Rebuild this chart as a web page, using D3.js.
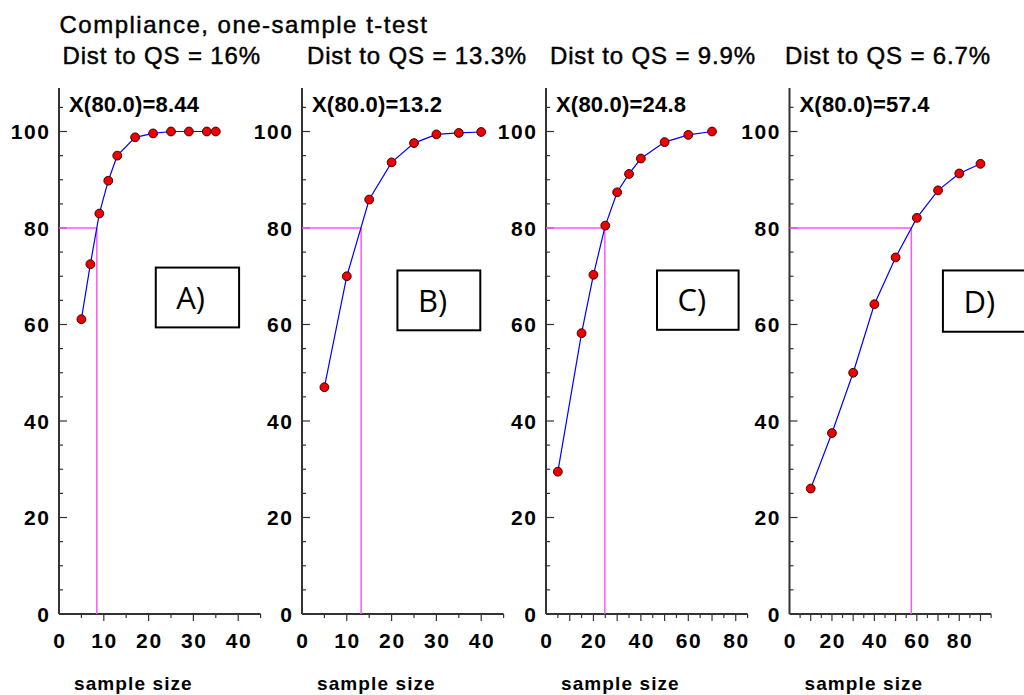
<!DOCTYPE html>
<html><head><meta charset="utf-8">
<script src="https://cdn.jsdelivr.net/npm/d3@7"></script>
<style>
html,body{margin:0;padding:0;background:#fff;}
svg{display:block;font-family:"Liberation Sans",Arial,sans-serif;}
</style></head>
<body><svg id="chart" width="1024" height="695"></svg>
<script>
// ---- data ----
const mainTitle = "Compliance, one-sample t-test";
const panelTitles = ["Dist to QS = 16%", "Dist to QS = 13.3%", "Dist to QS = 9.9%", "Dist to QS = 6.7%"];
const boxLabels = ["A)", "B)", "C)", "D)"];
const x80Values = [8.44, 13.2, 24.8, 57.4];
const threshold = 80;
const xLabel = "sample size";

const sizesA = [5, 7, 9, 11, 13, 17, 21, 25, 29, 33, 35];
const powerA = [61.1, 72.5, 83, 89.8, 95, 98.8, 99.6, 100, 100, 100, 100];
const sizesB = [5, 10, 15, 20, 25, 30, 35, 40];
const powerB = [47, 70, 85.9, 93.6, 97.6, 99.4, 99.7, 99.9];
const sizesC = [5, 15, 20, 25, 30, 35, 40, 50, 60, 70];
const powerC = [29.5, 58.2, 70.3, 80.5, 87.4, 91.2, 94.4, 97.8, 99.3, 100];
const sizesD = [10, 20, 30, 40, 50, 60, 70, 80, 90];
const powerD = [26, 37.5, 50, 64.2, 73.9, 82.1, 87.8, 91.3, 93.3];

const xDomainMax = [45, 45, 85, 95];
const xLabelStep = [10, 10, 20, 20];
const yDomainMax = 109;
const yTickLabels = [0, 20, 40, 60, 80, 100];

// annotation boxes in data units: [x0, x1, yTop, yBottom]
const boxExtents = [[21.6, 40.2, 71.8, 59.4], [21.3, 39.8, 71.2, 58.8], [46.8, 81.2, 71.2, 58.9], [72.3, 111, 71.2, 58.5]];

// ---- layout ----
const svg = d3.select("#chart");
const panelLeft = [59, 302, 546, 789.5];
const plotW = 201.6;
const yBottom = 614, yTop100 = 131.5;
const titleX = [62.5, 307, 550, 785];

const series = [[sizesA, powerA], [sizesB, powerB], [sizesC, powerC], [sizesD, powerD]];

const y = d3.scaleLinear().domain([0, 100]).range([yBottom, yTop100]);

svg.append("text").attr("x", 59.5).attr("y", 33)
  .attr("font-size", 24).attr("letter-spacing", 1.5).attr("fill", "#000")
  .attr("stroke", "#000").attr("stroke-width", 0.45)
  .text(mainTitle);

series.forEach(([xs, ys], i) => {
  const x = d3.scaleLinear().domain([0, xDomainMax[i]]).range([panelLeft[i], panelLeft[i] + plotW]);
  const g = svg.append("g");

  // title
  svg.append("text").attr("x", titleX[i]).attr("y", 63.5)
    .attr("font-size", 24).attr("letter-spacing", 0.85).attr("fill", "#000")
    .attr("stroke", "#000").attr("stroke-width", 0.45)
    .text(panelTitles[i]);

  // y axis
  const ya = g.append("g").attr("transform", `translate(${x(0)},0)`);
  ya.append("line").attr("x1", 0).attr("x2", 0).attr("y1", y(0)).attr("y2", y(yDomainMax))
    .attr("stroke", "#333").attr("stroke-width", 2);
  ya.selectAll(".yt").data(d3.range(5, yDomainMax, 5)).join("line")
    .attr("x1", 0).attr("x2", d => d % 20 === 0 ? 8 : 4)
    .attr("y1", d => y(d)).attr("y2", d => y(d))
    .attr("stroke", "#333").attr("stroke-width", 1.2);
  ya.selectAll(".yl").data(yTickLabels).join("text")
    .attr("x", -8.5).attr("y", d => y(d) + 7.5)
    .attr("text-anchor", "end").attr("font-size", 21).attr("font-weight", "bold")
    .attr("letter-spacing", 1.6).attr("fill", "#000")
    .text(d => d);

  // x axis
  const xa = g.append("g").attr("transform", `translate(0,${yBottom})`);
  xa.append("line").attr("x1", x(0)).attr("x2", x(xDomainMax[i])).attr("y1", 0).attr("y2", 0)
    .attr("stroke", "#333").attr("stroke-width", 2);
  xa.selectAll(".xt").data(d3.range(5, xDomainMax[i] + 0.1, 5)).join("line")
    .attr("x1", d => x(d)).attr("x2", d => x(d))
    .attr("y1", 0).attr("y2", d => d % 10 === 0 ? 7 : 4)
    .attr("stroke", "#333").attr("stroke-width", 1.2);
  xa.selectAll(".xl").data(d3.range(0, xDomainMax[i], xLabelStep[i])).join("text")
    .attr("x", d => x(d) + 0.8).attr("y", 33.5)
    .attr("text-anchor", "middle").attr("font-size", 21).attr("font-weight", "bold")
    .attr("letter-spacing", 1.6).attr("fill", "#000")
    .text(d => d);

  // x label
  svg.append("text").attr("x", x(0) + 15).attr("y", 690)
    .attr("font-size", 19).attr("font-weight", "bold").attr("letter-spacing", 1.1).attr("fill", "#000")
    .text(xLabel);

  // magenta threshold lines
  const xv = x80Values[i];
  g.append("line").attr("x1", x(0)).attr("x2", x(xv)).attr("y1", y(threshold)).attr("y2", y(threshold))
    .attr("stroke", "#ff55ff").attr("stroke-width", 1.5);
  g.append("line").attr("x1", x(xv)).attr("x2", x(xv)).attr("y1", y(0)).attr("y2", y(threshold))
    .attr("stroke", "#ff55ff").attr("stroke-width", 1.5);

  // X(80) label
  svg.append("text").attr("x", x(0) + 10).attr("y", 111.5)
    .attr("font-size", 22).attr("font-weight", "bold").attr("letter-spacing", 0.2).attr("fill", "#000")
    .text(`X(${threshold.toFixed(1)})=${xv}`);

  // line + points
  const pts = xs.map((d, k) => [d, ys[k]]);
  g.append("path").datum(pts)
    .attr("d", d3.line().x(d => x(d[0])).y(d => y(d[1])))
    .attr("fill", "none").attr("stroke", "#0000ff").attr("stroke-width", 1.2);
  g.selectAll(".pt").data(pts).join("circle")
    .attr("cx", d => x(d[0])).attr("cy", d => y(d[1])).attr("r", 4.4)
    .attr("fill", "#ee0000").attr("stroke", "#400000").attr("stroke-width", 1);

  // annotation box
  const b = boxExtents[i];
  svg.append("rect").attr("x", x(b[0])).attr("y", y(b[2]))
    .attr("width", x(b[1]) - x(b[0])).attr("height", y(b[3]) - y(b[2]))
    .attr("fill", "#fff").attr("stroke", "#000").attr("stroke-width", 2);
  svg.append("text").attr("x", x(b[0]) + 20.5).attr("y", y(b[3]) - 18.5)
    .attr("font-family", "'Open Sans', sans-serif").attr("font-size", 31).attr("fill", "#000")
    .text(boxLabels[i]);
});
</script></body></html>
